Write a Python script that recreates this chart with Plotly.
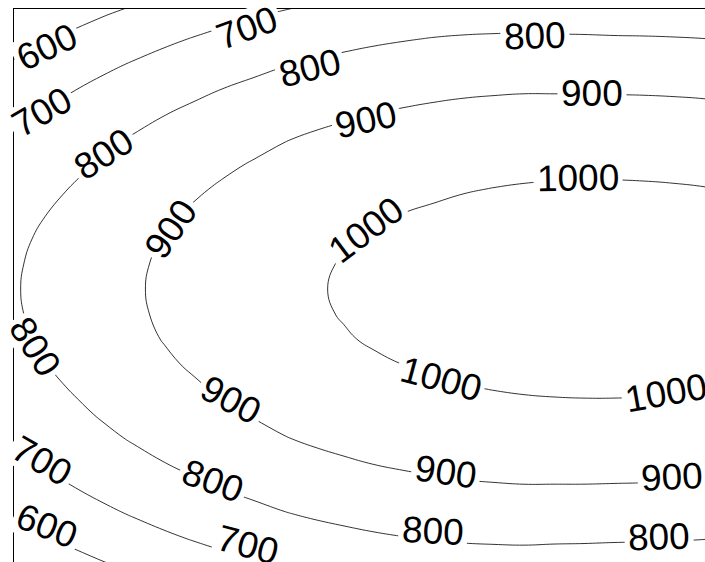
import plotly.graph_objects as go

# grid positions of the estimated surface
x_nodes = [14, 44, 74, 104, 134, 164, 194, 224, 254, 284, 314, 344, 374,
           404, 434, 464, 494, 524, 554, 584, 614, 644, 674, 704, 734]
y_nodes = [-11, 14, 39, 64, 89, 114, 139, 164, 189, 214, 239, 264, 289,
           314, 339, 364, 389, 414, 439, 464, 489, 514, 539, 564, 589]

# estimated values: peak minus a horizontal and a vertical fall-off
peak_value = 1052
col_drop = [258, 231, 206, 182, 160, 139, 120, 102, 86, 70, 57, 46, 36,
            28, 21, 14, 9, 5, 2, 0.5, 0, 1, 3, 6, 11]
col_scale = [0.93, 0.93, 0.93, 0.93, 0.93, 0.93, 0.93, 0.93, 0.93, 0.93,
             0.93, 0.93, 0.93, 0.93, 0.93, 0.94, 0.95, 0.96, 0.98, 0.99,
             1, 1, 1, 1, 1]
row_drop = [350, 295, 245, 200, 160, 124, 92, 66, 44, 25, 11, 3, 0,
            3, 11, 25, 44, 66, 92, 124, 160, 200, 245, 295, 350]

levels = [600, 700, 800, 900, 1000]

# inline label placement: (level, x, y, angle)
label_layout = [
    (600, 47, 47, -25), (600, 47, 526, 22),
    (700, 42, 112, -30), (700, 247, 28, -20), (700, 42, 461, 30), (700, 248, 545, 15),
    (800, 104, 154, -33), (800, 310, 68, -14), (800, 535, 36, -2), (800, 35, 347, 57),
    (800, 213, 481, 20), (800, 433, 531, 3), (800, 659, 537, -2),
    (900, 171, 229, -55), (900, 366, 120, -12), (900, 592, 93, 0), (900, 231, 400, 28),
    (900, 446, 472, 8), (900, 672, 477, -3),
    (1000, 366, 230, -37), (1000, 578, 178, -1), (1000, 441, 379, 15), (1000, 666, 393, -10),
]

z = [[peak_value - cd - rd * sc for cd, sc in zip(col_drop, col_scale)]
     for rd in row_drop]

fig = go.Figure(
    go.Contour(
        x=x_nodes,
        y=y_nodes,
        z=z,
        showscale=False,
        contours=dict(start=levels[0], end=levels[-1], size=levels[1] - levels[0],
                      coloring="none", showlabels=False),
        line=dict(color="black", width=0.8, smoothing=1.3),
        hoverinfo="skip",
    )
)

annotations = []
for lvl, lx, ly, ang in label_layout:
    annotations.append(dict(
        x=lx, y=ly, xref="x", yref="y", text=str(lvl), showarrow=False,
        textangle=ang, font=dict(family="Liberation Sans, Arial", size=37, color="black"),
        bgcolor="white", borderpad=3, height=30, xanchor="center", yanchor="middle",
    ))

# frame lines redrawn on top of the labels
annotations.append(dict(x=13.5, y=600, ax=13.5, ay=-40, xref="x", yref="y",
                        axref="x", ayref="y", text="", showarrow=True,
                        arrowhead=0, arrowwidth=1, arrowcolor="black", standoff=0))
annotations.append(dict(x=760, y=8.5, ax=-40, ay=8.5, xref="x", yref="y",
                        axref="x", ayref="y", text="", showarrow=True,
                        arrowhead=0, arrowwidth=1, arrowcolor="black", standoff=0))

fig.update_layout(
    width=705,
    height=562,
    margin=dict(l=14, t=9, r=0, b=0),
    paper_bgcolor="white",
    plot_bgcolor="white",
    showlegend=False,
    annotations=annotations,
    xaxis=dict(range=[14, 705], side="top", showline=True, linecolor="black",
               linewidth=1, showticklabels=False, ticks="", showgrid=False,
               zeroline=False),
    yaxis=dict(range=[562, 9], showline=True, linecolor="black", linewidth=1,
               showticklabels=False, ticks="", showgrid=False, zeroline=False),
)

fig.write_html(
    "out.html",
    config={"displayModeBar": False},
    post_script="document.body.style.margin='0';document.body.style.overflow='hidden';",
)
